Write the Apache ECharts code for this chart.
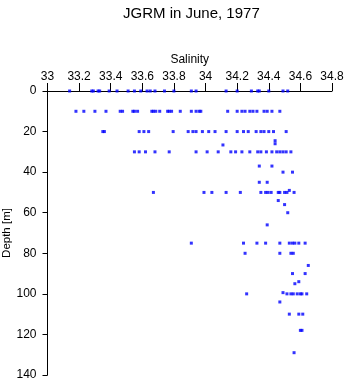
<!DOCTYPE html>
<html>
<head>
<meta charset="utf-8">
<script src="https://cdn.jsdelivr.net/npm/echarts@6/dist/echarts.min.js"></script>
<style>html,body{margin:0;padding:0;background:#fff;}#c{width:346px;height:384px;}</style>
</head>
<body>
<div id="c"></div>
<script>
const titleText = "JGRM in June, 1977";
const xName = "Salinity";
const yName = "Depth [m]";
const xTicks = [33, 33.2, 33.4, 33.6, 33.8, 34, 34.2, 34.4, 34.6, 34.8];
const yTicks = [0, 20, 40, 60, 80, 100, 120, 140];

const sal0 = [33.14,33.28,33.29,33.32,33.33,33.39,33.44,33.51,33.55,33.59,33.63,33.65,33.68,33.74,33.80,33.91,33.94,34.13,34.20,34.29,34.33,34.34,34.40,34.49,34.52];
const sal10 = [33.18,33.23,33.30,33.37,33.46,33.475,33.54,33.55,33.57,33.66,33.67,33.685,33.71,33.76,33.77,33.785,33.84,33.91,33.94,33.96,33.97,34.14,34.20,34.23,34.25,34.28,34.30,34.325,34.37,34.39,34.42,34.47];
const sal20 = [33.35,33.36,33.58,33.61,33.64,33.795,33.89,33.92,33.94,33.98,34.02,34.06,34.13,34.20,34.24,34.27,34.32,34.35,34.37,34.40,34.43,34.51];
const sal30 = [33.55,33.58,33.62,33.68,33.77,33.94,34.01,34.08,34.16,34.19,34.23,34.28,34.33,34.35,34.385,34.42,34.45,34.47,34.49,34.51,34.54];
const sal50 = [33.67,33.99,34.04,34.13,34.22,34.35,34.38,34.395,34.415,34.46,34.47,34.50,34.515,34.56];
const sal75 = [33.91,34.24,34.325,34.38,34.47,34.53,34.55,34.565,34.59,34.63];
const sal100 = [34.26,34.515,34.54,34.555,34.58,34.60,34.61,34.64];
// other scattered casts: [salinity, depth]
const otherSal =   [34.44,34.44,34.11,34.34,34.42,34.49,34.55,34.34,34.39,34.53,34.46,34.50,34.52,34.39,34.25,34.47,34.54,34.555,34.65,34.55,34.63,34.59,34.565,34.49,34.47,34.53,34.59,34.615,34.60,34.61,34.56];
const otherDepth = [24.5,26,26.6,37,37,40,40,45,45,49,54,56,60,66,80,80,80,80,86,90,90,94,95,99.4,104,110,110,110,118,118,129];

const levels = [[0, sal0], [10, sal10], [20, sal20], [30, sal30], [50, sal50], [75, sal75], [100, sal100]];
const pts = [];
levels.forEach(([d, arr]) => arr.forEach(s => pts.push([s, d])));
otherSal.forEach((s, i) => pts.push([s, otherDepth[i]]));

const font = "Liberation Sans, Arial, sans-serif";
const chart = echarts.init(document.getElementById('c'), null, {renderer: 'canvas'});
chart.setOption({
  animation: false,
  backgroundColor: '#fff',
  title: {
    text: titleText, left: 118, top: 1,
    textStyle: {fontSize: 15, fontWeight: 'normal', color: '#000', fontFamily: font}
  },
  grid: {left: 47.5, right: 14, top: 91, bottom: 9, containLabel: false, outerBoundsMode: 'none'},
  xAxis: {
    type: 'value', position: 'top', min: 33, max: 34.8, interval: 0.2,
    name: xName, nameLocation: 'middle', nameGap: 25, nameMoveOverlap: false,
    nameTextStyle: {fontSize: 12, color: '#000', fontFamily: font},
    axisLine: {show: true, lineStyle: {color: '#000', width: 1}},
    axisTick: {show: true, length: 8, lineStyle: {color: '#000'}},
    axisLabel: {fontSize: 12, color: '#000', margin: 8, fontFamily: font,
      formatter: v => xTicks.includes(Math.round(v*10)/10) ? String(Math.round(v*10)/10) : ''},
    splitLine: {show: false}
  },
  yAxis: {
    type: 'value', inverse: true, min: 0, max: 140, interval: 20,
    name: yName, nameLocation: 'middle', nameGap: 35, nameRotate: 90, nameMoveOverlap: false,
    nameTextStyle: {fontSize: 11.5, color: '#000', fontFamily: font},
    axisLine: {show: true, lineStyle: {color: '#000', width: 1}},
    axisTick: {show: true, length: 5, lineStyle: {color: '#000'}},
    axisLabel: {fontSize: 12, color: '#000', margin: 11, fontFamily: font,
      formatter: v => yTicks.includes(v) ? String(v) : ''},
    splitLine: {show: false}
  },
  series: [{
    type: 'scatter', data: pts, symbol: 'rect', symbolSize: 3,
    itemStyle: {color: '#0000ff'}
  }]
});
</script>
</body>
</html>
